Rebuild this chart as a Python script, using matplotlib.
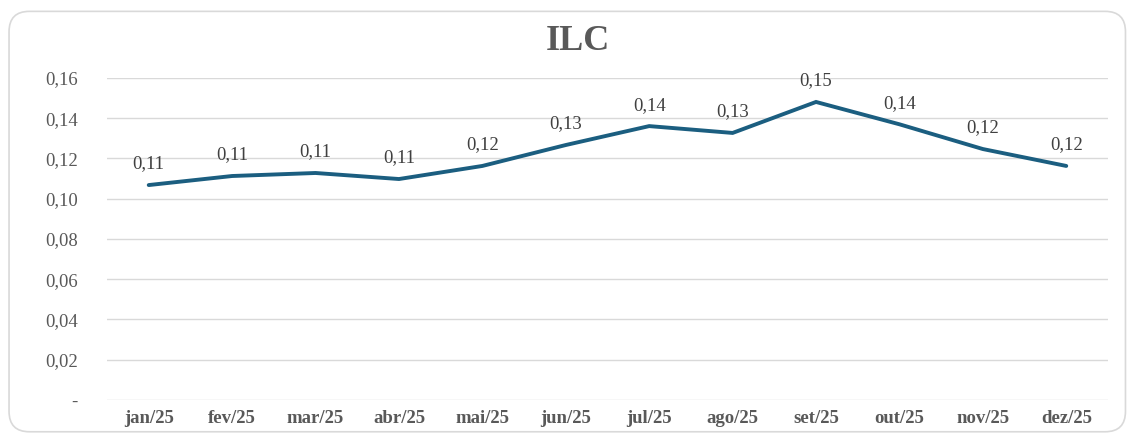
import matplotlib.pyplot as plt
from matplotlib.patches import FancyBboxPatch
from matplotlib.ticker import FuncFormatter

months = ["jan/25", "fev/25", "mar/25", "abr/25", "mai/25", "jun/25",
          "jul/25", "ago/25", "set/25", "out/25", "nov/25", "dez/25"]
ilc = [0.1068, 0.1113, 0.1128, 0.1098, 0.1163, 0.1267,
       0.1361, 0.1327, 0.1481, 0.1370, 0.1247, 0.1163]
y_ticks = [0.0, 0.02, 0.04, 0.06, 0.08, 0.10, 0.12, 0.14, 0.16]

plt.rcParams['font.family'] = ['Liberation Serif', 'DejaVu Serif']

fig = plt.figure(figsize=(11.3, 4.37), dpi=100)
frame = FancyBboxPatch((0.008, 0.012), 0.988, 0.962,
                       boxstyle="round,pad=0,rounding_size=0.018",
                       transform=fig.transFigure, facecolor="none",
                       edgecolor="#d9d9d9", linewidth=1.2,
                       mutation_aspect=2.6, zorder=-1)
fig.patches.append(frame)

ax = fig.add_axes([0.0947, 0.0847, 0.8858, 0.7368])
ax.patch.set_alpha(0)
x = list(range(len(months)))
ax.plot(x, ilc, color="#1b5e80", linewidth=2.8, solid_capstyle="round",
        solid_joinstyle="miter", zorder=3)

for xi, v in zip(x, ilc):
    ax.annotate(f"{v:.2f}".replace(".", ","), (xi, v), xytext=(0, 9),
                textcoords="offset points", ha="center", va="bottom",
                fontsize=13.5, color="#404040")

ax.set_xlim(-0.5, len(months) - 0.5)
ax.set_ylim(0, 0.16)
ax.set_yticks(y_ticks)
ax.yaxis.set_major_formatter(FuncFormatter(
    lambda v, p: "-" if abs(v) < 1e-9 else f"{v:.2f}".replace(".", ",")))
ax.set_xticks(x)
ax.set_xticklabels(months, fontweight="bold")
ax.grid(axis="y", color="#d9d9d9", linewidth=1)
ax.set_axisbelow(True)
for s in ax.spines.values():
    s.set_visible(False)
ax.tick_params(axis="both", length=0, labelsize=13.5, colors="#595959")
ax.tick_params(axis="y", pad=21)
ax.tick_params(axis="x", pad=7)

fig.text(0.511, 0.904, "ILC", ha="center", va="center", fontsize=26,
         fontweight="bold", color="#595959")

fig.savefig("out.png", dpi=100)
